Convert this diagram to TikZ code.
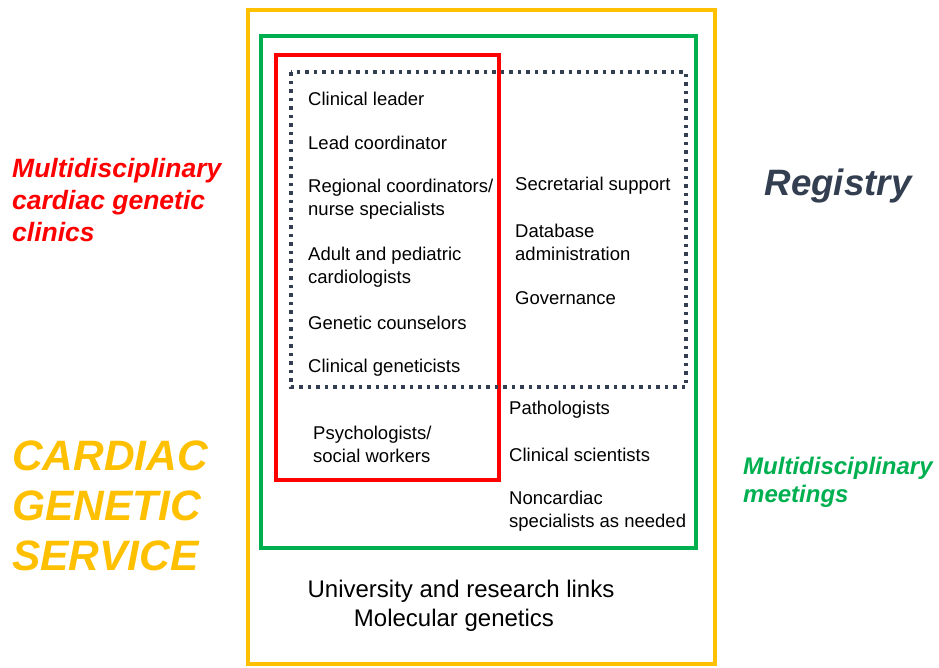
\documentclass[tikz,border=0pt]{standalone}
\usepackage{fontspec}
\setmainfont{Liberation Sans}
\usetikzlibrary{positioning}

\definecolor{serviceorange}{HTML}{FFC000}
\definecolor{meetgreen}{HTML}{00B050}
\definecolor{clinicred}{HTML}{FF0000}
\definecolor{registryslate}{HTML}{333F50}

\begin{document}
\begin{tikzpicture}[
    x=1pt, y=-1pt,
    frame/.style={line width=4pt},
    member/.style={
        anchor=west,
        align=left,
        inner sep=0pt,
        font=\fontsize{18.5}{23}\selectfont
    },
    heading/.style={
        anchor=west,
        align=left,
        inner sep=0pt,
        font=\bfseries\itshape
    }
]
\useasboundingbox (0,0) rectangle (939,667);

% nested frames
\draw[frame, serviceorange] (248,10) rectangle (715,664);
\draw[frame, meetgreen, line width=3.5pt] (261,36) rectangle (696,548);
\draw[frame, clinicred, line width=3.5pt] (276,55) rectangle (499,480);
\draw[registryslate, line width=3.5pt, dash pattern=on 3.5pt off 5pt] (291,72) rectangle (686,387);

% clinic members
\node[member] (leader) at (308,98.5) {Clinical leader};
\node[member] (lead) at (308,143) {Lead coordinator};
\node[member] (regional) at (308,199.5) {Regional coordinators/\\nurse specialists};
\node[member] (cardio) at (308,267) {Adult and pediatric\\cardiologists};
\node[member] (counsel) at (308,323) {Genetic counselors};
\node[member] (genet) at (308,368) {Clinical geneticists};
\node[member] (psych) at (313,444) {Psychologists/\\social workers};

% registry members
\node[member] (secret) at (515,186) {Secretarial support};
\node[member] (dbase) at (515,242) {Database\\administration};
\node[member] (govern) at (515,298) {Governance};

% meeting members
\node[member] (patho) at (509,410) {Pathologists};
\node[member] (scient) at (509,455) {Clinical scientists};
\node[member] (noncard) at (509,511.5) {Noncardiac\\specialists as needed};

% service links
\node[align=center, inner sep=0pt, font=\fontsize{24}{29}\selectfont] (links) at (461,606) {University and research links\\\hspace*{-14pt}Molecular genetics};

% side headings
\node[heading, clinicred, font=\bfseries\itshape\fontsize{26.5}{32}\selectfont] (clinics) at (12,200) {Multidisciplinary\\cardiac genetic\\clinics};
\node[heading, serviceorange, font=\bfseries\itshape\fontsize{42.5}{50}\selectfont] (service) at (12,505.5) {CARDIAC\\GENETIC\\SERVICE};
\node[heading, meetgreen, font=\bfseries\itshape\fontsize{24}{28}\selectfont] (meetings) at (743,482) {Multidisciplinary\\meetings};
\node[heading, anchor=center, registryslate, font=\bfseries\itshape\fontsize{36.7}{44}\selectfont] (registry) at (838,186) {Registry};
\end{tikzpicture}
\end{document}
